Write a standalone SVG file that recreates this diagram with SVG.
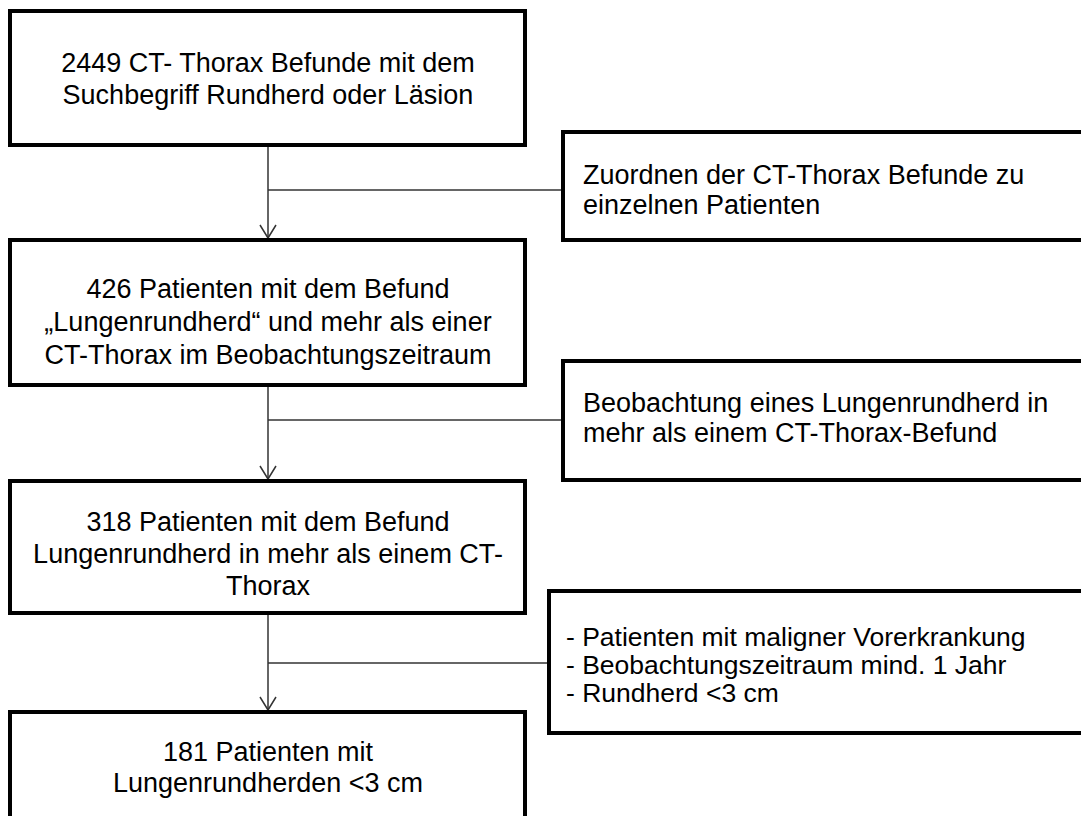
<svg xmlns="http://www.w3.org/2000/svg" width="1081" height="816" viewBox="0 0 1081 816">
<style>
.box{fill:#fff;stroke:#000;stroke-width:4}
.c{fill:none;stroke:#333;stroke-width:1.5}
text{font-family:"Liberation Sans",Arial,sans-serif;font-size:27px;fill:#000}
.m{text-anchor:middle}
</style>
<defs>
<marker id="arr" viewBox="0 0 20 20" refX="18" refY="10" markerWidth="20" markerHeight="20" markerUnits="userSpaceOnUse" orient="auto">
<path d="M5,2 L18,10 L5,18" fill="none" stroke="#333" stroke-width="1.5"/>
</marker>
</defs>
<rect width="1081" height="816" fill="#fff"/>
<g id="connectors">
<line class="c" x1="268" y1="145" x2="268" y2="238" marker-end="url(#arr)"/>
<line class="c" x1="268" y1="190" x2="563" y2="190"/>
<line class="c" x1="268" y1="385" x2="268" y2="479" marker-end="url(#arr)"/>
<line class="c" x1="268" y1="420" x2="563" y2="420"/>
<line class="c" x1="268" y1="613" x2="268" y2="710" marker-end="url(#arr)"/>
<line class="c" x1="268" y1="663" x2="549" y2="663"/>
</g>
<g id="n1">
<rect class="box" x="10" y="11" width="515" height="134"/>
<text class="m" x="268" y="72">2449 CT- Thorax Befunde mit dem</text>
<text class="m" x="268" y="104">Suchbegriff Rundherd oder Läsion</text>
</g>
<g id="s1">
<rect class="box" x="563" y="132" width="560" height="108"/>
<text x="583" y="184">Zuordnen der CT-Thorax Befunde zu</text>
<text x="583" y="214">einzelnen Patienten</text>
</g>
<g id="n2">
<rect class="box" x="10" y="240" width="515" height="145"/>
<text class="m" x="268" y="298">426 Patienten mit dem Befund</text>
<text class="m" x="268" y="331">„Lungenrundherd“ und mehr als einer</text>
<text class="m" x="268" y="364">CT-Thorax im Beobachtungszeitraum</text>
</g>
<g id="s2">
<rect class="box" x="563" y="361" width="560" height="119"/>
<text x="583" y="412">Beobachtung eines Lungenrundherd in</text>
<text x="583" y="442">mehr als einem CT-Thorax-Befund</text>
</g>
<g id="n3">
<rect class="box" x="10" y="481" width="515" height="132"/>
<text class="m" x="268" y="531">318 Patienten mit dem Befund</text>
<text class="m" x="268" y="563">Lungenrundherd in mehr als einem CT-</text>
<text class="m" x="268" y="595">Thorax</text>
</g>
<g id="s3">
<rect class="box" x="549" y="591" width="580" height="142"/>
<text x="566" y="646" style="font-size:26.5px">- Patienten mit maligner Vorerkrankung</text>
<text x="566" y="674" style="font-size:26.5px">- Beobachtungszeitraum mind. 1 Jahr</text>
<text x="566" y="702" style="font-size:26.5px">- Rundherd &lt;3 cm</text>
</g>
<g id="n4">
<rect class="box" x="10" y="712" width="515" height="130"/>
<text class="m" x="268" y="761">181 Patienten mit</text>
<text class="m" x="268" y="792">Lungenrundherden &lt;3 cm</text>
</g>
</svg>
